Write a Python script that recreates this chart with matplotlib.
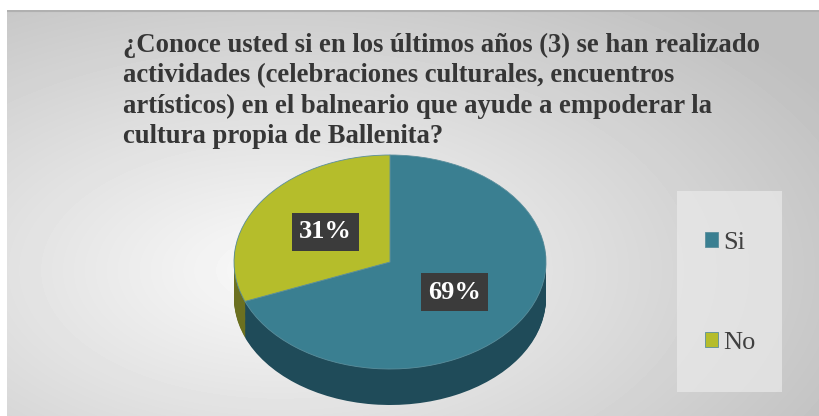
import numpy as np
import matplotlib.pyplot as plt
from matplotlib.patches import Rectangle

labels = ["Si", "No"]
values = [69, 31]
title = ("¿Conoce usted si en los últimos años (3) se han realizado\n"
         "actividades (celebraciones culturales, encuentros\n"
         "artísticos) en el balneario que ayude a empoderar la\n"
         "cultura propia de Ballenita?")

top_colors = ["#3a7f91", "#b5bd2b"]
side_colors = ["#1f4b59", "#6b7020"]

W, H = 819, 416
fig = plt.figure(figsize=(W / 100, H / 100), dpi=100)
fig.patch.set_facecolor("white")

# fondo con degradado radial
bg = fig.add_axes([7 / W, 0, 1 - 7 / W, 406 / H])
bg.set_axis_off()
yy, xx = np.mgrid[0:406, 7:819]
d = np.sqrt(((xx - 280) / 560.0) ** 2 + ((yy - 260) / 300.0) ** 2)
shade = np.clip(0.98 - 0.2 * d, 0.75, 1.0)
bg.imshow(shade, cmap="gray", vmin=0, vmax=1, aspect="auto",
          interpolation="bilinear")
bg.axhline(0, color="#b0b0b0", lw=1.5)

# pastel "3D"
cx, cy, rx, ry, depth = 390, 262, 156, 107, 36
ax = fig.add_axes([(cx - rx) / W, (H - (cy + ry + depth)) / H,
                   2 * rx / W, (2 * ry + depth) / H])
ax.set_zorder(2)
dd = depth / ry
for t in np.linspace(dd, 0.01, 40):
    ax.pie(values, colors=side_colors, startangle=90, counterclock=False,
           center=(0, -t), wedgeprops=dict(linewidth=0))
wedges, _, autotexts = ax.pie(
    values, colors=top_colors, startangle=90, counterclock=False,
    autopct="%1.0f%%", pctdistance=0.5,
    wedgeprops=dict(linewidth=0.6, edgecolor="#5a8e9c"),
    textprops=dict(color="white", fontsize=19, fontweight="bold",
                   family="Liberation Serif"))
for at in autotexts:
    at.set_bbox(dict(boxstyle="square,pad=0.28", facecolor="#3b3b3b",
                     edgecolor="none"))
ax.set_aspect("auto")
ax.set_xlim(-1, 1)
ax.set_ylim(-1 - dd, 1)

# titulo
fig.text(123 / W, 1 - 33 / H, title, ha="left", va="top", fontsize=19.2,
         fontweight="bold", family="Liberation Serif", color="#363636",
         linespacing=1.28)

# leyenda
fig.patches.append(Rectangle((677 / W, 1 - 392 / H), 105 / W, 201 / H,
                             transform=fig.transFigure, facecolor="#eaeaea",
                             alpha=0.7, edgecolor="none", zorder=1))
leg = fig.legend(wedges, labels, loc="center left",
                 bbox_to_anchor=(692 / W, 1 - 293 / H), frameon=False,
                 prop=dict(family="Liberation Serif", size=19),
                 labelspacing=2.98, handlelength=0.5, handleheight=0.5,
                 handletextpad=0.2, borderpad=0)
for txt in leg.get_texts():
    txt.set_color("#404040")

fig.savefig("out.png", dpi=100)
